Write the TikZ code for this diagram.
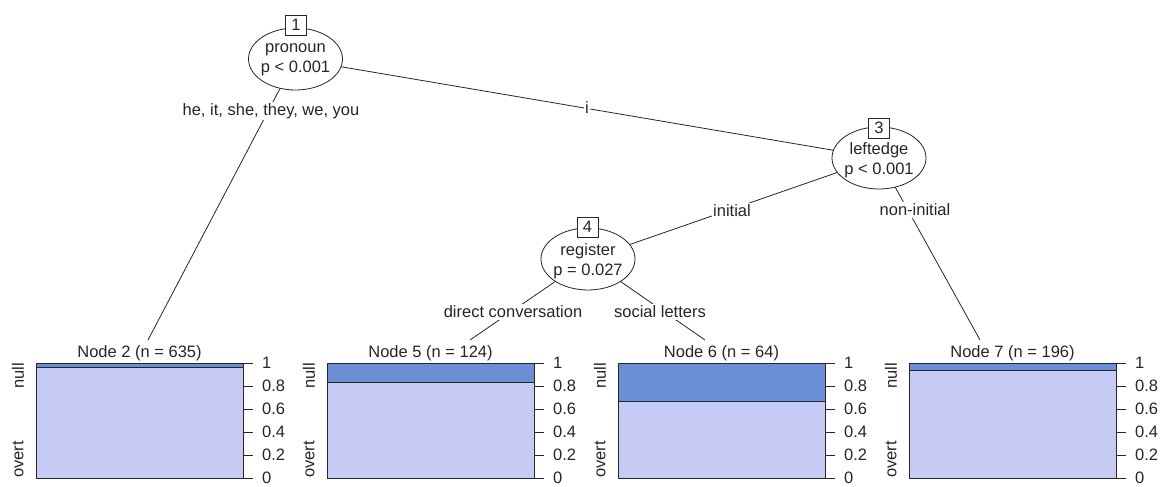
\documentclass[tikz,border=0pt]{standalone}
\usepackage{fontspec}
\setmainfont{Liberation Sans}
\usetikzlibrary{shapes.geometric,backgrounds}

\definecolor{nullc}{HTML}{6C8ED5}
\definecolor{overtc}{HTML}{C6CBF5}
\definecolor{ink}{HTML}{262626}

\begin{document}
\begin{tikzpicture}[x=1pt,y=-1pt,
  font=\fontsize{16.5}{20.5}\selectfont, text=ink,
  split/.style={ellipse, draw=ink, fill=white, line width=0.8pt,
    minimum width=94pt, minimum height=62pt, inner sep=0pt},
  splittext/.style={align=center, inner sep=0pt},
  idbox/.style={rectangle, draw=ink, fill=white, line width=0.8pt,
    minimum width=21pt, minimum height=20pt, inner sep=0pt},
  branch/.style={draw=ink, line width=0.8pt},
  elabel/.style={fill=white, inner sep=1.5pt},
  barline/.style={draw=ink, line width=0.8pt},
  title/.style={inner sep=0pt},
  sidelab/.style={inner sep=0pt, rotate=90},
  ticklab/.style={inner sep=0pt, anchor=west}]

\useasboundingbox (0,0) rectangle (1164,487);

% inner (split) nodes
\node[split] (n1) at (295.5,59) {};
\node[splittext] (n1t) at (295.5,60) {pronoun\\p < 0.001};
\node[idbox] (n1id) at (296,25) {1};

\node[split] (n3) at (879,158) {};
\node[splittext] (n3t) at (879,160) {leftedge\\p < 0.001};
\node[idbox] (n3id) at (879,128) {3};

\node[split] (n4) at (588,259) {};
\node[splittext] (n4t) at (588,261) {register\\p = 0.027};
\node[idbox] (n4id) at (587.5,227) {4};

% top ends of the branches into the terminal panels
\coordinate (e2) at (148,340);
\coordinate (e5) at (470,340);
\coordinate (e6) at (705,340);
\coordinate (e7) at (980,340);

% white page and branches, drawn behind the split nodes
\begin{scope}[on background layer]
  \fill[white] (0,0) rectangle (1164,487);
  \draw[branch] (n1.center) -- (e2);
  \draw[branch] (n1.center) -- (n3.center);
  \draw[branch] (n3.center) -- (n4.center);
  \draw[branch] (n3.center) -- (e7);
  \draw[branch] (n4.center) -- (e5);
  \draw[branch] (n4.center) -- (e6);
\end{scope}

% branch labels
\node[elabel] (l12) at (271,111) {he, it, she, they, we, you};
\node[elabel] (l13) at (587,108) {i};
\node[elabel] (l34) at (732,211) {initial};
\node[elabel] (l37) at (915,210) {non-initial};
\node[elabel] (l45) at (513,312) {direct conversation};
\node[elabel] (l46) at (660,312) {social letters};

% terminal bar plots: left edge / share of null / node id / size
\foreach \L/\f/\id/\n in {36/0.035/2/635, 327/0.165/5/124, 618/0.33/6/64, 909/0.06/7/196} {
  \pgfmathsetmacro\R{\L+207}
  \pgfmathsetmacro\B{363+115*\f}
  \fill[overtc] (\L,\B) rectangle (\R,478);
  \fill[nullc] (\L,363) rectangle (\R,\B);
  \draw[barline] (\L,\B) -- (\R,\B);
  \draw[barline] (\L,363) rectangle (\R,478);
  \node[title] (t\id) at ({(\L+\R)/2},353) {Node \id{} (n = \n)};
  \node[sidelab, anchor=east] (null\id) at (\L-18,363) {null};
  \node[sidelab, anchor=west] (overt\id) at (\L-18,478) {overt};
  \foreach \k/\t in {0/0, 1/0.2, 2/0.4, 3/0.6, 4/0.8, 5/1} {
    \pgfmathsetmacro\yy{478-23*\k}
    \draw[barline] (\R,\yy) -- (\R+10,\yy);
    \node[ticklab] (tk\id-\k) at (\R+19,\yy) {\t};
  }
}
\end{tikzpicture}
\end{document}
